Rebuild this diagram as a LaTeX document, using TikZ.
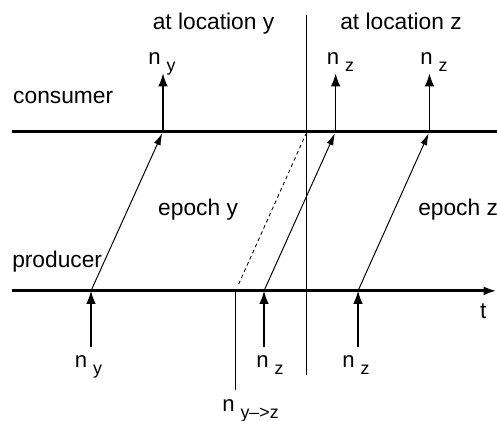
\documentclass[tikz,border=0pt]{standalone}
\usepackage{fontspec}
\setmainfont{Liberation Sans}
\usetikzlibrary{arrows.meta}
\newcommand{\nlab}[1]{{\fontsize{18}{18}\selectfont n}\hspace{0.17cm}\raisebox{-5pt}{\fontsize{14.5}{14.5}\selectfont #1}}
\tikzset{
	timeline/.style={line width=2.4pt},
	notify/.style={line width=1.1pt,-{Latex[length=3.7mm,width=2.7mm]}},
	msg/.style={line width=0.8pt,-{Latex[length=3.4mm,width=2mm]},shorten >=1.5pt},
	lab/.style={font=\fontsize{18.5}{22}\selectfont,inner sep=0pt},
	nl/.style={inner sep=0pt,anchor=base},
}
\begin{document}
\begin{tikzpicture}
\useasboundingbox (0,0) rectangle (14.2,12);
% time lines
\coordinate (cstart) at (0.343,8.24);
\coordinate (cend) at (14.2,8.24);
\coordinate (pstart) at (0.343,3.69);
\coordinate (pend) at (14.2,3.69);
\draw[timeline] (cstart) -- (cend);
\draw[timeline,-{Latex[length=3.8mm,width=2.5mm]}] (pstart) -- (pend);
% location border
\coordinate (btop) at (8.771,11.571);
\coordinate (bbot) at (8.771,1.286);
\coordinate (bcons) at (8.771,8.24);
\draw[line width=0.8pt] (btop) -- (bbot);
% switch point
\coordinate (sw) at (6.733,3.69);
\coordinate (swbot) at (6.733,0.857);
\draw[line width=0.8pt] (sw) -- (swbot);
\draw[line width=0.7pt,dash pattern=on 3pt off 2.5pt,shorten <=6pt,shorten >=2pt] (sw) -- (bcons);
% produced events
\coordinate (p1) at (2.6,3.69);
\coordinate (p2) at (7.543,3.69);
\coordinate (p3) at (10.229,3.69);
\coordinate (p1b) at (2.6,2.086);
\coordinate (p2b) at (7.543,2.086);
\coordinate (p3b) at (10.229,2.086);
\draw[notify] (p1b) -- (p1);
\draw[notify] (p2b) -- (p2);
\draw[notify] (p3b) -- (p3);
% consumed events
\coordinate (c1) at (4.657,8.24);
\coordinate (c2) at (9.59,8.24);
\coordinate (c3) at (12.27,8.24);
\coordinate (c1t) at (4.657,9.905);
\coordinate (c2t) at (9.59,9.905);
\coordinate (c3t) at (12.27,9.905);
\draw[notify] (c1) -- (c1t);
\draw[notify] (c2) -- (c2t);
\draw[notify] (c3) -- (c3t);
% messages
\draw[msg] (p1) -- (c1);
\draw[msg] (p2) -- (c2);
\draw[msg] (p3) -- (c3);
% labels
\node[lab,anchor=base] (locy) at (6.1,11.143) {at location y};
\node[lab,anchor=base] (locz) at (11.457,11.143) {at location z};
\node[lab,anchor=base west] (cons) at (0.371,9.057) {consumer};
\node[lab,anchor=base west] (prod) at (0.343,4.371) {producer};
\node[lab,anchor=base west] (epy) at (4.514,5.829) {epoch y};
\node[lab,anchor=base west] (epz) at (11.943,5.829) {epoch z};
\node[lab,anchor=base] (tlab) at (13.81,2.914) {t};
\node[nl] (nc1) at (4.63,10.143) {\nlab{y}};
\node[nl] (nc2) at (9.73,10.143) {\nlab{z}};
\node[nl] (nc3) at (12.4,10.143) {\nlab{z}};
\node[nl] (np1) at (2.53,1.486) {\nlab{y}};
\node[nl] (np2) at (7.71,1.486) {\nlab{z}};
\node[nl] (np3) at (10.17,1.486) {\nlab{z}};
\node[nl,anchor=base west] (nsw) at (6.343,0.229) {\nlab{y\textendash>z}};
\end{tikzpicture}
\end{document}
